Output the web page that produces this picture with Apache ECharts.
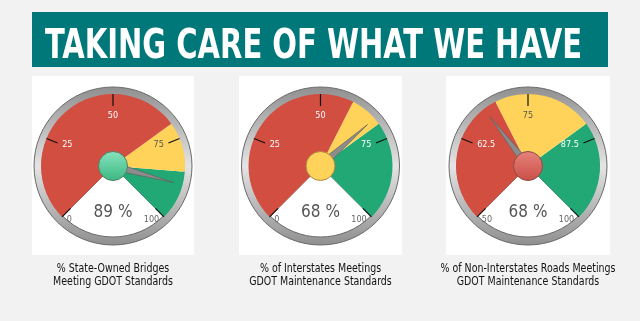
<!DOCTYPE html>
<html>
<head>
<meta charset="utf-8">
<script src="https://cdn.jsdelivr.net/npm/echarts@6/dist/echarts.min.js"></script>
<style>
html,body{margin:0;padding:0;background:#f2f2f2;}
#chart{width:640px;height:321px;}
</style>
</head>
<body>
<div id="chart"></div>
<script>
// ---- data ----
const titleText = 'TAKING CARE OF WHAT WE HAVE';
const values = [89, 68, 68];
const scaleMin = [0, 0, 50];
const scaleMax = [100, 100, 100];
const redEnd = [70, 60, 70];
const yellowEnd = [85, 70, 85];
const captions = [
  '% State-Owned Bridges\nMeeting GDOT Standards',
  '% of Interstates Meetings\nGDOT Maintenance Standards',
  '% of Non-Interstates Roads Meetings\nGDOT Maintenance Standards'
];

// ---- style / layout ----
const FONT = '"DejaVu Sans Condensed", "DejaVu Sans", sans-serif';
const RED = '#d24e41', YELLOW = '#ffd35a', GREEN = '#21a874';
const centersX = [113, 320.5, 528];
const CY = 166;
const R = 72;
const panels = [[32, 162], [239, 163], [446, 164]];

function grad(c1, c2) {
  return new echarts.graphic.LinearGradient(0, 0, 0, 1, [{offset: 0, color: c1}, {offset: 1, color: c2}]);
}
function hubStyle(i) {
  const v = values[i];
  if (v >= yellowEnd[i]) return {color: grad('#88e2bc', '#3bb884'), borderColor: '#4f7f68', borderWidth: 1};
  if (v >= redEnd[i]) return {color: YELLOW, borderColor: '#a98b3f', borderWidth: 1};
  return {color: grad('#e6837b', '#ca4f47'), borderColor: '#8d4b46', borderWidth: 1};
}

const chart = echarts.init(document.getElementById('chart'), null, {renderer: 'canvas'});

// measure title to fit banner width
const TITLE_FONT = 'bold 41px ' + FONT;
const cv = document.createElement('canvas').getContext('2d');
cv.font = TITLE_FONT;
const titleW = cv.measureText(titleText).width;
const titleScale = 537 / titleW;

const graphics = [
  {type: 'rect', shape: {x: 32, y: 12, width: 576, height: 55}, style: {fill: '#00787a'}, z: 0},
  {type: 'text', x: 313.5, y: 47, scaleX: titleScale, scaleY: 1,
   style: {text: titleText, fill: '#fff', font: TITLE_FONT, textAlign: 'center', textVerticalAlign: 'middle'}, z: 1}
];
panels.forEach(p => graphics.push({type: 'rect', shape: {x: p[0], y: 76, width: p[1], height: 179}, style: {fill: '#fff'}, z: 0}));
captions.forEach((c, i) => graphics.push({type: 'text', x: centersX[i], y: 275, scaleX: 0.84, scaleY: 1,
  style: {text: c, fill: '#111', font: '12.5px ' + FONT, textAlign: 'center', textVerticalAlign: 'middle', lineHeight: 12.5}, z: 1}));

const series = [];
values.forEach((v, i) => {
  const c = [centersX[i], CY];
  const mn = scaleMin[i], mx = scaleMax[i];
  const span = mx - mn;
  // bezel ring
  series.push({
    type: 'pie', center: c, radius: [R - 1, R + 7], silent: true, z: 1,
    label: {show: false}, labelLine: {show: false}, emphasis: {disabled: true},
    itemStyle: {color: new echarts.graphic.LinearGradient(0, 0, 0, 1, [
      {offset: 0, color: '#8f8f8f'}, {offset: 0.5, color: '#e4e4e4'}, {offset: 1, color: '#8f8f8f'}]),
      borderColor: '#6a6a6a', borderWidth: 1},
    data: [{value: 1}]
  });
  // edge lines of the white sector
  series.push({
    type: 'gauge', center: c, radius: R, startAngle: 225, endAngle: -45, min: mn, max: mx,
    splitNumber: 1, z: 3,
    axisLine: {show: false, lineStyle: {width: 0}},
    axisTick: {show: false}, axisLabel: {show: false},
    splitLine: {show: true, length: R, distance: 0, lineStyle: {color: '#555', width: 0.8}},
    pointer: {show: false}, anchor: {show: false}, title: {show: false}, detail: {show: false},
    data: [{value: mn}]
  });
  // main gauge
  series.push({
    type: 'gauge', center: c, radius: R, startAngle: 225, endAngle: -45, min: mn, max: mx,
    splitNumber: 4, z: 4,
    axisLine: {lineStyle: {width: R, color: [
      [(redEnd[i] - mn) / span, RED], [(yellowEnd[i] - mn) / span, YELLOW], [1, GREEN]]}},
    axisTick: {show: false},
    splitLine: {show: true, distance: -R, length: 12, lineStyle: {color: '#111', width: 1.2}},
    axisLabel: {
      distance: 77, fontSize: 9, fontFamily: FONT,
      formatter: function (val) {
        if (val <= mn || val >= mx) return '';
        const s = String(val);
        return (val > redEnd[i] && val < yellowEnd[i]) ? '{d|' + s + '}' : '{w|' + s + '}';
      },
      rich: {w: {color: '#ffffff', fontSize: 9, fontFamily: FONT}, d: {color: '#555555', fontSize: 9, fontFamily: FONT}}
    },
    pointer: {show: true, icon: 'path://M50,0 L100,1000 L0,1000 Z', length: '87%', width: 8, offsetCenter: [0, 0],
      itemStyle: {color: '#8c8c8c', borderColor: '#5e5e5e', borderWidth: 0.6}},
    anchor: {show: true, showAbove: true, size: 29, itemStyle: hubStyle(i)},
    title: {show: false},
    detail: {show: true, offsetCenter: [0, 47], formatter: '{value} %', fontSize: 17, fontFamily: FONT,
      color: '#555555', fontWeight: 'normal', valueAnimation: false},
    data: [{value: v}]
  });
  // end labels (min / max)
  series.push({
    type: 'gauge', center: c, radius: 70.5, startAngle: 229, endAngle: -49, min: mn, max: mx,
    splitNumber: 1, z: 5,
    axisLine: {show: false, lineStyle: {width: 0}},
    axisTick: {show: false}, splitLine: {show: false, length: 0, distance: 0},
    axisLabel: {distance: 0, color: '#666', fontSize: 9, fontFamily: FONT},
    pointer: {show: false}, anchor: {show: false}, title: {show: false}, detail: {show: false},
    data: [{value: mn}]
  });
});

chart.setOption({
  backgroundColor: '#f2f2f2',
  animation: false,
  graphic: graphics,
  series: series
});
</script>
</body>
</html>
